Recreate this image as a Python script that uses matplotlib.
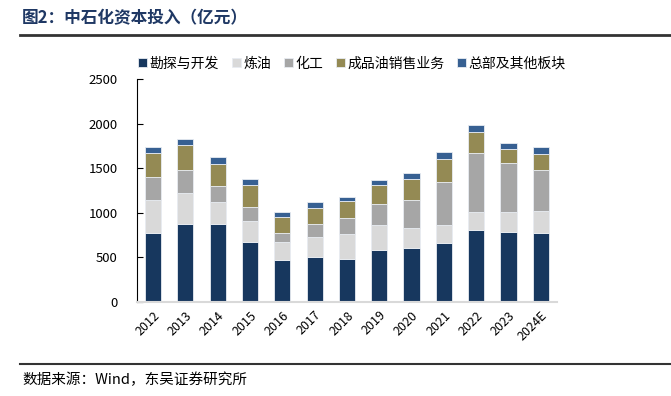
import matplotlib.pyplot as plt
import numpy as np

plt.rcParams['font.family'] = ['Noto Sans CJK SC', 'DejaVu Sans']

years = ['2012', '2013', '2014', '2015', '2016', '2017', '2018',
         '2019', '2020', '2021', '2022', '2023', '2024E']
series_names = ['勘探与开发', '炼油', '化工', '成品油销售业务', '总部及其他板块']

# 亿元
explore = [773, 878, 871, 676, 473, 500, 477, 586, 605, 661, 807, 781, 773]
refining = [372, 342, 252, 236, 199, 228, 289, 278, 228, 203, 203, 229, 245]
chemical = [258, 255, 180, 154, 102, 150, 176, 233, 312, 484, 664, 548, 462]
marketing = [264, 282, 240, 240, 183, 180, 192, 217, 229, 259, 233, 154, 175]
hq_other = [67, 71, 79, 72, 53, 57, 45, 56, 72, 75, 83, 67, 84]

colors = ['#17375e', '#d9d9d9', '#a6a6a6', '#948a54', '#376092']

fig = plt.figure(figsize=(6.71, 3.96), dpi=100)
ax = fig.add_axes([0.204, 0.238, 0.626, 0.562])

x = np.arange(len(years))
bottom = np.zeros(len(years))
for name, vals, c in zip(series_names, [explore, refining, chemical, marketing, hq_other], colors):
    ax.bar(x, vals, 0.5, bottom=bottom, color=c, label=name,
           edgecolor='#e8ecf2', linewidth=0.6)
    bottom += np.array(vals)

ax.set_xlim(-0.5, 12.5)
ax.set_ylim(0, 2500)
ax.set_yticks(range(0, 2501, 500))
ax.set_xticks(x)
ax.set_xticklabels(years, rotation=45, ha='right', rotation_mode='anchor', fontsize=9)
ax.tick_params(axis='y', direction='in', length=4, labelsize=9.5, pad=14)
ax.tick_params(axis='x', length=0, pad=5)
for s in ['top', 'right']:
    ax.spines[s].set_visible(False)
ax.spines['left'].set_color('black')
ax.spines['bottom'].set_color('#d9d9d9')
ax.spines['bottom'].set_linewidth(1.5)

ax.legend(loc='lower left', bbox_to_anchor=(-0.02, 0.995), ncol=5, frameon=False,
          fontsize=10, handlelength=0.65, handleheight=0.65, handletextpad=0.15,
          columnspacing=0.95, borderaxespad=0.3)

fig.text(0.033, 0.955, '图2：中石化资本投入（亿元）', fontsize=12, fontweight='bold',
         color='#1f3864', va='center')
fig.add_artist(plt.Line2D([0.03, 1.0], [0.912, 0.912], color='#333333', lw=2))
fig.add_artist(plt.Line2D([0.03, 1.0], [0.081, 0.081], color='#333333', lw=1.5))
fig.text(0.033, 0.04, '数据来源：Wind，东吴证券研究所', fontsize=10.5, color='black', va='center')

fig.savefig('out.png', dpi=100)
